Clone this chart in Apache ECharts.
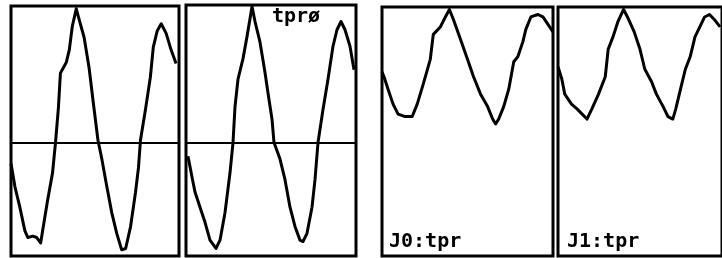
<!doctype html>
<html>
<head>
    <meta charset="utf-8">
    <title>tpr</title>
    <script src="https://cdn.jsdelivr.net/npm/echarts@6/dist/echarts.min.js"></script>
</head>
<body style="margin:0;background:#fff;">
<div id="chart" style="width:722px;height:258px;"></div>
<script type="text/javascript">
    // panel 1 (no label) - time and value
    var p1T = [0,4,9,14,17,22,26,30,32,37,42,45,48,50,56,59,62,66,69,74,79,83,88,92,97,102,107,112,116,121,126,129,131,136,141,144,148,152,157,162,167];
    var p1V = [-0.15,-0.32,-0.47,-0.64,-0.69,-0.68,-0.69,-0.73,-0.64,-0.42,-0.22,0,0.26,0.51,0.59,0.68,0.85,0.98,0.90,0.77,0.55,0.31,0.02,-0.12,-0.32,-0.51,-0.66,-0.78,-0.77,-0.61,-0.36,-0.18,0.02,0.24,0.48,0.70,0.82,0.87,0.80,0.68,0.58];

    // panel 2 "tprø"
    var p2T = [2,6,9,14,19,24,30,34,39,44,47,49,52,57,61,64,66,69,74,79,82,86,88,94,99,104,109,114,117,121,126,129,132,137,142,147,151,155,159,164,168];
    var p2V = [-0.10,-0.25,-0.36,-0.47,-0.58,-0.71,-0.77,-0.71,-0.51,-0.22,0,0.26,0.46,0.61,0.77,0.90,0.99,0.88,0.73,0.51,0.36,0.17,0,-0.12,-0.27,-0.47,-0.61,-0.71,-0.72,-0.66,-0.47,-0.27,0,0.24,0.46,0.70,0.82,0.88,0.82,0.70,0.53];

    // panel 3 "J0:tpr"
    var p3T = [0,2,6,11,16,23,30,35,41,48,51,58,63,67,71,78,85,91,98,105,110,113,116,121,126,131,135,140,143,148,155,160,165,170];
    var p3V = [0.74,0.72,0.67,0.61,0.57,0.56,0.56,0.61,0.69,0.79,0.89,0.92,0.96,0.99,0.95,0.87,0.79,0.72,0.65,0.60,0.55,0.53,0.55,0.60,0.67,0.78,0.80,0.86,0.91,0.96,0.97,0.96,0.93,0.90];

    // panel 4 "J1:tpr"
    var p4T = [0,4,7,14,20,30,35,42,49,52,57,62,68,72,79,85,90,97,102,109,114,119,122,127,132,137,142,147,152,157,162,168];
    var p4V = [0.76,0.71,0.65,0.61,0.59,0.55,0.59,0.65,0.72,0.83,0.88,0.94,0.99,0.96,0.90,0.83,0.75,0.70,0.65,0.60,0.56,0.55,0.59,0.67,0.75,0.80,0.88,0.92,0.96,0.97,0.95,0.92];

    var labels = ['', 'tprø', 'J0:tpr', 'J1:tpr'];

    function pairs(t, v) {
        var out = [];
        for (var i = 0; i < t.length; i++) out.push([t[i], v[i]]);
        return out;
    }

    var grids = [
        {left: 11, top: 6, width: 168, height: 250},
        {left: 186, top: 5, width: 170, height: 251},
        {left: 382, top: 7, width: 171, height: 249},
        {left: 558, top: 7, width: 171, height: 249}
    ];
    grids.forEach(function (g) {
        g.show = true;
        g.borderColor = '#000';
        g.borderWidth = 3;
        g.backgroundColor = '#fff';
        g.containLabel = false;
    });

    var xAxes = [], yAxes = [], series = [];
    var all = [[p1T, p1V], [p2T, p2V], [p3T, p3V], [p4T, p4V]];
    for (var i = 0; i < 4; i++) {
        var bipolar = i < 2;
        xAxes.push({
            type: 'value', gridIndex: i, min: 0, max: 170,
            axisLine: {show: bipolar, onZero: true, lineStyle: {color: '#000', width: 2}},
            axisTick: {show: false}, axisLabel: {show: false}, splitLine: {show: false}
        });
        yAxes.push({
            type: 'value', gridIndex: i, min: bipolar ? -0.825 : 0, max: 1,
            axisLine: {show: false}, axisTick: {show: false}, axisLabel: {show: false}, splitLine: {show: false}
        });
        series.push({
            type: 'line', xAxisIndex: i, yAxisIndex: i,
            data: pairs(all[i][0], all[i][1]),
            showSymbol: false, smooth: false, clip: true,
            lineStyle: {color: '#000', width: 3, join: 'round'},
            z: 3
        });
    }

    var txt = {fontFamily: 'DejaVu Sans Mono', fontWeight: 'bold', fontSize: 20, color: '#000'};
    var titles = [
        {text: labels[1], left: 272, top: 7, textStyle: txt, padding: 0},
        {text: labels[2], left: 389, top: 232, textStyle: txt, padding: 0},
        {text: labels[3], left: 567, top: 232, textStyle: txt, padding: 0}
    ];

    var myChart = echarts.init(document.getElementById('chart'), null, {renderer: 'canvas'});
    myChart.setOption({
        animation: false,
        backgroundColor: '#fff',
        title: titles,
        grid: grids,
        xAxis: xAxes,
        yAxis: yAxes,
        series: series
    });
</script>
</body>
</html>
